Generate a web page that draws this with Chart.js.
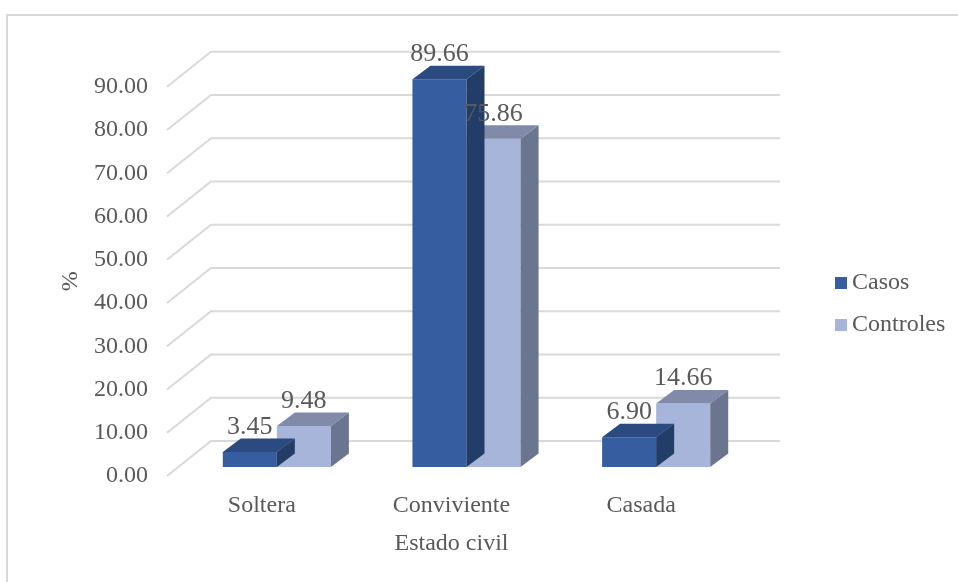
<!DOCTYPE html>
<html>
<head>
<meta charset="utf-8">
<script src="https://cdn.jsdelivr.net/npm/chart.js@4"></script>
<style>
  body { margin: 0; background: #fff; }
  #wrap { position: relative; width: 958px; height: 582px; overflow: hidden; }
  #frame { position: absolute; left: 6px; top: 14px; width: 1000px; height: 1000px; border: 2px solid #d9d9d9; }
  canvas { position: absolute; left: 0; top: 0; }
</style>
</head>
<body>
<div id="wrap">
  <div id="frame"></div>
  <canvas id="myChart" width="958" height="582"></canvas>
</div>
<script>
const categories = ["Soltera", "Conviviente", "Casada"];
const casos = [3.45, 89.66, 6.9];
const controles = [9.48, 75.86, 14.66];
const seriesNames = ["Casos", "Controles"];

const frontColors = ["#365DA0", "#A8B5DB"];
const topColors = ["#2B4A80", "#818AA9"];
const sideColors = ["#233D69", "#6B758F"];

const textColor = "#595959";
const fontFamily = "'Liberation Serif', 'Times New Roman', serif";

// depth of the floor and of the bars
const floorDx = 44, floorDy = -35;
const barShiftX = 15, barShiftY = -9;
const barDx = 18, barDy = -13.5;

const depthPlugin = {
  id: "depth",
  beforeDatasetsDraw(chart) {
    const ctx = chart.ctx;
    const y = chart.scales.y;
    const area = chart.chartArea;
    ctx.save();
    ctx.strokeStyle = "#d9d9d9";
    ctx.lineWidth = 2;
    y.ticks.forEach((t) => {
      const py = y.getPixelForValue(t.value);
      ctx.beginPath();
      ctx.moveTo(area.left, py);
      ctx.lineTo(area.left + floorDx, py + floorDy);
      ctx.lineTo(area.right + floorDx, py + floorDy);
      ctx.stroke();
    });
    ctx.restore();

    ctx.save();
    ctx.translate(barShiftX, barShiftY);
  },
  afterDatasetDraw(chart, args) {
    const ctx = chart.ctx;
    const i = args.index;
    args.meta.data.forEach((bar) => {
      const l = bar.x - bar.width / 2;
      const r = bar.x + bar.width / 2;
      const t = bar.y;
      const b = bar.base;
      ctx.fillStyle = topColors[i];
      ctx.beginPath();
      ctx.moveTo(l, t);
      ctx.lineTo(l + barDx, t + barDy);
      ctx.lineTo(r + barDx, t + barDy);
      ctx.lineTo(r, t);
      ctx.closePath();
      ctx.fill();
      ctx.fillStyle = sideColors[i];
      ctx.beginPath();
      ctx.moveTo(r, t);
      ctx.lineTo(r + barDx, t + barDy);
      ctx.lineTo(r + barDx, b + barDy);
      ctx.lineTo(r, b);
      ctx.closePath();
      ctx.fill();
    });
  },
  afterDatasetsDraw(chart) {
    const ctx = chart.ctx;
    ctx.font = "26px " + fontFamily;
    ctx.fillStyle = textColor;
    ctx.textAlign = "center";
    ctx.textBaseline = "middle";
    chart.data.datasets.forEach((ds, i) => {
      chart.getDatasetMeta(i).data.forEach((bar, j) => {
        ctx.fillText(ds.data[j].toFixed(2), bar.x, bar.y - 25);
      });
    });
    ctx.restore();
  },
  afterDraw(chart) {
    const ctx = chart.ctx;
    ctx.save();
    ctx.font = "24px " + fontFamily;
    ctx.textBaseline = "middle";
    ctx.textAlign = "left";
    chart.data.datasets.forEach((ds, i) => {
      const cy = 283 + i * 42;
      ctx.fillStyle = frontColors[i];
      ctx.fillRect(835, cy - 6, 12, 12);
      ctx.fillStyle = textColor;
      ctx.fillText(ds.label, 852, cy);
    });
    ctx.restore();
  },
};

const chart = new Chart("myChart", {
  type: "bar",
  data: {
    labels: categories,
    datasets: [
      {
        label: seriesNames[0],
        data: casos,
        backgroundColor: frontColors[0],
        clip: false,
      },
      {
        label: seriesNames[1],
        data: controles,
        backgroundColor: frontColors[1],
        clip: false,
      },
    ],
  },
  options: {
    responsive: false,
    animation: false,
    devicePixelRatio: 1,
    categoryPercentage: 0.57,
    barPercentage: 1,
    layout: {
      padding: { left: 0, top: 86.7, right: 222, bottom: 0 },
    },
    plugins: {
      legend: { display: false },
      tooltip: { enabled: false },
    },
    scales: {
      x: {
        grid: { display: false, drawTicks: false },
        border: { display: false },
        ticks: {
          color: textColor,
          padding: 15,
          font: { family: fontFamily, size: 24 },
        },
        title: {
          display: true,
          text: "Estado civil",
          color: textColor,
          padding: { top: 0, bottom: 24 },
          font: { family: fontFamily, size: 24 },
        },
        afterFit(scale) {
          scale.height = 106;
        },
      },
      y: {
        min: 0,
        max: 90,
        grid: { display: false, drawTicks: false },
        border: { display: false },
        ticks: {
          stepSize: 10,
          color: textColor,
          padding: 19,
          font: { family: fontFamily, size: 24 },
          callback: (v) => Number(v).toFixed(2),
        },
        title: {
          display: true,
          text: "%",
          color: textColor,
          padding: { top: 56, bottom: 0 },
          font: { family: fontFamily, size: 24 },
        },
        afterFit(scale) {
          scale.width = 167;
        },
      },
    },
  },
  plugins: [depthPlugin],
});
</script>
</body>
</html>
